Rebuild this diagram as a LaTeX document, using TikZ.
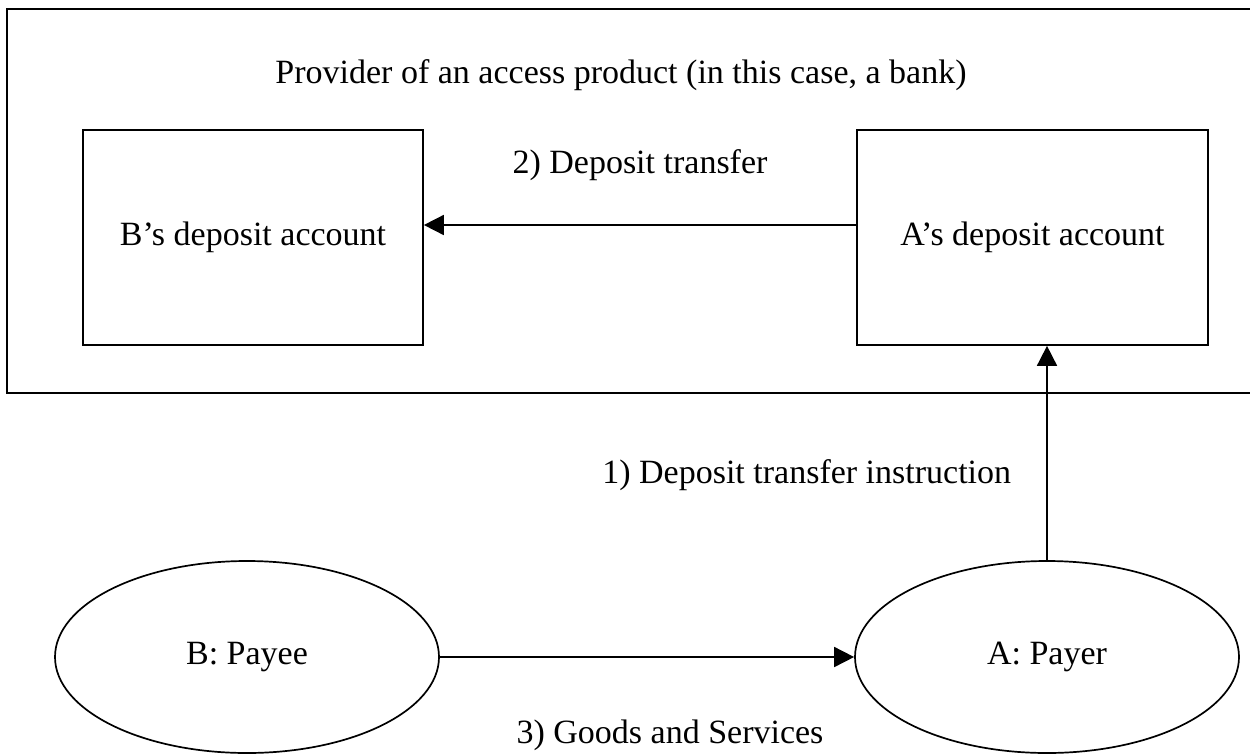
\documentclass[tikz,border=0pt]{standalone}
\usepackage{fontspec}
\setmainfont{Liberation Serif}
\usetikzlibrary{arrows.meta,shapes.geometric}
\begin{document}
\begin{tikzpicture}[x=1pt,y=-1pt,
  line width=1.7pt,
  every node/.style={font=\fontsize{34}{40}\selectfont},
  acct/.style={draw, rectangle, minimum height=215pt, inner sep=0pt},
  party/.style={draw, ellipse, minimum width=384pt, minimum height=192pt, inner sep=0pt},
  lbl/.style={inner sep=0pt},
  arr/.style={-{Triangle[length=20pt,width=20pt]}}]
\useasboundingbox (0,0) rectangle (1250,755);
\clip (0,0) rectangle (1250,755);
\draw (7,9) rectangle (1270,393);
\node[lbl] (prov) at (621,75) {Provider of an access product (in this case, a bank)};
\node[acct, minimum width=340pt] (B) at (253,237.5) {B’s deposit account};
\node[acct, minimum width=351pt] (A) at (1032.5,237.5) {A’s deposit account};
\node[lbl] (l2) at (640,165) {2) Deposit transfer};
\node[party] (EB) at (247,657) {B: Payee};
\node[party] (EA) at (1047,657) {A: Payer};
\node[lbl, anchor=east] (l1) at (1012,475) {1) Deposit transfer instruction};
\node[lbl] (l3) at (670,735) {3) Goods and Services};
\draw[arr] (A.west |- 0,225) -- (B.east |- 0,225);
\draw[arr] (EA.north) -- (EA.north |- A.south);
\draw[arr] (EB.east) -- (EA.west);
\end{tikzpicture}
\end{document}
